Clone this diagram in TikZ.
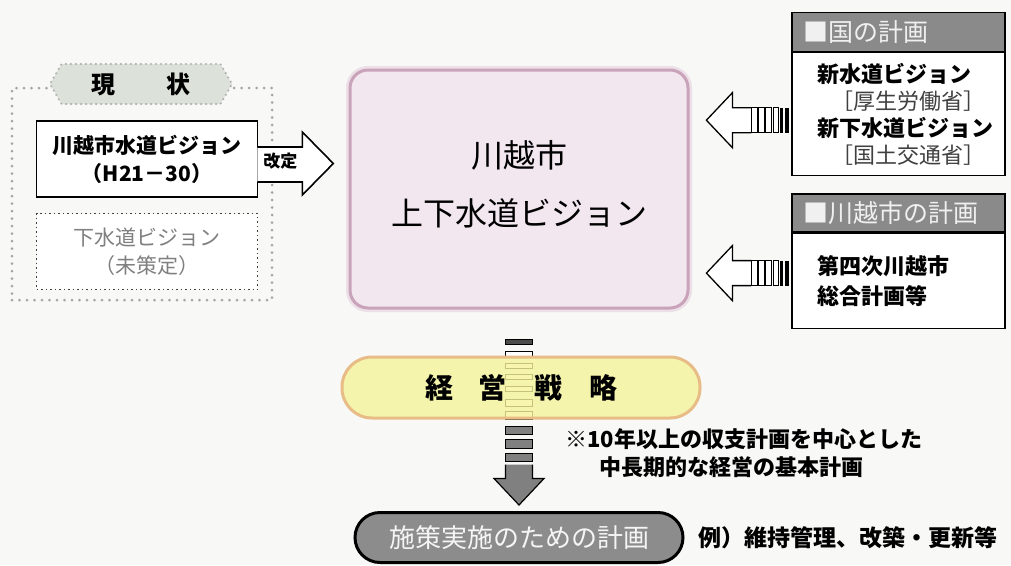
\documentclass[tikz,border=0pt]{standalone}
\usepackage{fontspec}
\setmainfont{Noto Sans CJK JP}
\usetikzlibrary{positioning,shapes,calc}

\definecolor{paper}{HTML}{F8F8F6}
\definecolor{pinkfill}{HTML}{F2E7EE}
\definecolor{pinkline}{HTML}{C9A3BA}
\definecolor{yelfill}{HTML}{F5F39A}
\definecolor{yelline}{HTML}{E8BC86}
\definecolor{hdrgray}{HTML}{8A8A8A}
\definecolor{plangray}{HTML}{8C8C8C}
\definecolor{statfill}{HTML}{DCE2DA}

\tikzset{
  box/.style={draw, line width=1.6pt, fill=white, inner sep=0pt, align=center,
    font=\bfseries\fontsize{21}{28}\selectfont},
  hdr/.style={draw, line width=1.2pt, fill=hdrgray, text=white!94!black,
    minimum width=213pt, minimum height=39pt, inner xsep=11pt, text width=191pt,
    align=left, font=\fontsize{25}{28}\selectfont},
  panel/.style={draw, line width=1.2pt, fill=white, minimum width=213pt, inner sep=0pt},
  note/.style={inner sep=0pt, align=left, font=\bfseries\fontsize{22}{28}\selectfont},
  bar/.style={draw, line width=1.1pt}
}

\begin{document}
\begin{tikzpicture}[x=1pt,y=-1pt]
  \useasboundingbox[fill=paper] (0,0) rectangle (1011,565);

  % current state
  \node[draw=gray!70, line width=3pt, line cap=round, dash pattern=on 0pt off 7.5pt,
    minimum width=260pt, minimum height=212pt] (now) at (142,194) {};
  \node[signal, signal to=west and east, signal pointer angle=120, fill=statfill,
    draw=gray!60, line width=2.4pt, line cap=round, dash pattern=on 0pt off 5pt,
    minimum width=182pt, minimum height=40pt, inner sep=0pt,
    font=\bfseries\fontsize{24}{28}\selectfont] (nowlbl) at (141,84) {現\hspace{52pt}状};
  \node[box, minimum width=221pt, minimum height=76pt] (cur) at (147,159)
    {川越市水道ビジョン\\（H21－30）};
  \node[box, draw=black!75, line width=1.5pt, dash pattern=on 1.5pt off 3pt,
    text=gray, font=\fontsize{21}{28}\selectfont,
    minimum width=221pt, minimum height=76pt, below=15pt of cur] (sew)
    {下水道ビジョン\\（未策定）};
  \filldraw[fill=white, line width=1.6pt, line join=miter]
    ($(cur.east)+(-1,-12)$) -- ($(cur.east)+(44,-12)$) -- ($(cur.east)+(44,-27)$)
    -- ($(cur.east)+(75,4.5)$) -- ($(cur.east)+(44,36)$) -- ($(cur.east)+(44,23)$)
    -- ($(cur.east)+(-1,23)$);
  \node[font=\bfseries\fontsize{17}{20}\selectfont, inner sep=0pt] (rev) at ($(cur.east)+(22,2)$) {改定};

  % new vision
  \node[draw=pinkline, line width=3pt, fill=pinkfill, rounded corners=18pt,
    preaction={draw=pinkline!35, line width=8pt},
    minimum width=338pt, minimum height=238pt, align=center,
    font=\fontsize{32}{58}\selectfont] (vision) at (519,189) {};
  \node[align=center, font=\fontsize{32}{58}\selectfont] (visiontext)
    at ($(vision.center)+(0,-5)$) {川越市\\上下水道ビジョン};

  % plans of the state and the city
  \node[hdr] (kunihdr) at (898.5,32) {■国の計画};
  \node[panel, minimum height=123pt, below=0pt of kunihdr] (kunibody) {};
  \node[note, font=\fontsize{22}{27}\selectfont, right=26pt of kunibody.west] (kunitext)
    {\textbf{新水道ビジョン}\\\hspace*{14pt}\textcolor{black!75}{［厚生労働省］}\\
     \textbf{新下水道ビジョン}\\\hspace*{14pt}\textcolor{black!75}{［国土交通省］}};
  \node[hdr, minimum height=38pt, below=17pt of kunibody] (cityhdr) {■川越市の計画};
  \node[panel, minimum height=95pt, below=0pt of cityhdr] (citybody) {};
  \node[note, font=\bfseries\fontsize{22}{30}\selectfont, right=26pt of citybody.west] (citytext)
    {第四次川越市\\総合計画等};

  \foreach \src/\dy in {kunibody/6,citybody/-7.5}{
    \coordinate (a) at ($(\src.west)+(0,\dy)$);
    \filldraw[fill=white, line width=1.3pt, line join=miter]
      ($(a)+(-40,-12.5)$) -- ($(a)+(-59,-12.5)$) -- ($(a)+(-59,-27.5)$)
      -- ($(a)+(-85,0)$) -- ($(a)+(-59,27.5)$) -- ($(a)+(-59,12.5)$)
      -- ($(a)+(-40,12.5)$);
    \foreach \l/\r in {-40/-34,-33/-27,-26/-20,-18/-13}
      \draw[bar, fill=white] ($(a)+(\l,-12.5)$) rectangle ($(a)+(\r,12.5)$);
    \foreach \l/\r in {-11/-8,-6/-2}
      \fill ($(a)+(\l,-12.5)$) rectangle ($(a)+(\r,12.5)$);
  }

  % management strategy
  \coordinate (d) at (vision.south);
  \draw[bar, fill=black!70] ($(d)+(-13.5,30)$) rectangle ($(d)+(13.5,35)$);
  \foreach \t/\b in {42/47,54/59,65/70,77/82,90/97,102/110}
    \draw[bar, fill=white] ($(d)+(-13.5,\t)$) rectangle ($(d)+(13.5,\b)$);
  \node[draw=yelline, line width=3pt, fill=yelfill, fill opacity=0.8, text opacity=1,
    rounded corners=30pt, minimum width=358pt, minimum height=61pt,
    font=\bfseries\fontsize{28}{32}\selectfont] (strategy) at (521,387.5)
    {経\hspace{26pt}営\hspace{28pt}戦\hspace{26pt}略};
  \node[draw, line width=3pt, fill=plangray, rounded corners=25pt, text=white!96!black,
    minimum width=328pt, minimum height=50pt,
    font=\fontsize{26}{30}\selectfont] (plan) at (519,537.5) {施策実施のための計画};
  \foreach \t/\b in {117/125,130/139,144/152}
    \draw[bar, fill=gray] ($(d)+(-13.5,\t)$) rectangle ($(d)+(13.5,\b)$);
  \filldraw[fill=gray, line width=1.2pt, line join=miter]
    ($(d)+(-13.5,155)$) -- ($(d)+(-13.5,169)$) -- ($(d)+(-25,169)$)
    -- ($(plan.north)+(0,-6)$) -- ($(d)+(25,169)$) -- ($(d)+(13.5,169)$)
    -- ($(d)+(13.5,155)$);

  % notes
  \node[note, anchor=north west] (stratnote) at (565,428)
    {※10年以上の収支計画を中心とした\\\hspace*{34pt}中長期的な経営の基本計画};
  \node[note, font=\bfseries\fontsize{23}{28}\selectfont, right=14pt of plan] (plannote)
    {例）維持管理、改築・更新等};
\end{tikzpicture}
\end{document}
